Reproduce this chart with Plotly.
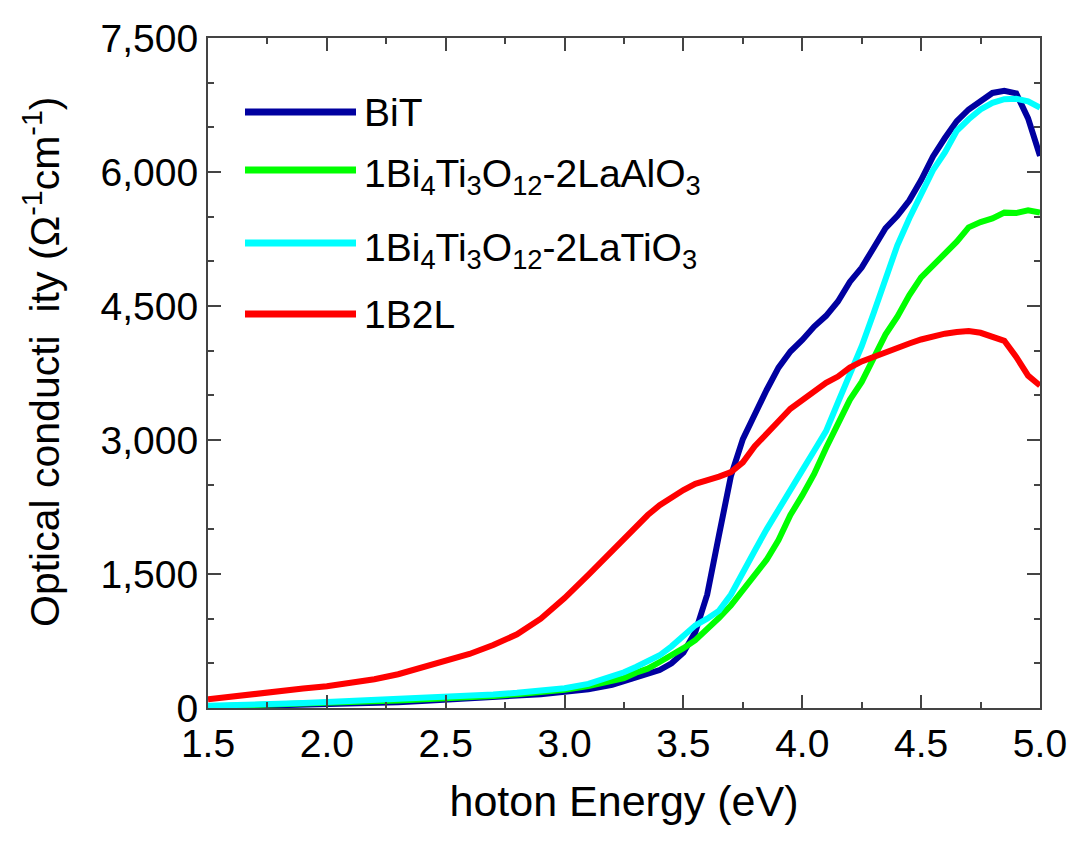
import plotly.graph_objects as go

energy = [1.5, 1.6, 1.7, 1.8, 1.9, 2.0, 2.1, 2.2, 2.3, 2.4, 2.5, 2.6, 2.7, 2.8, 2.9, 3.0, 3.1, 3.2,
          3.25, 3.3, 3.35, 3.4, 3.45, 3.5, 3.55, 3.6, 3.65, 3.7, 3.75, 3.8, 3.85, 3.9, 3.95, 4.0,
          4.05, 4.1, 4.15, 4.2, 4.25, 4.3, 4.35, 4.4, 4.45, 4.5, 4.55, 4.6, 4.65, 4.7, 4.75, 4.8,
          4.85, 4.9, 4.95, 5.0]

bit = [10, 15, 20, 25, 30, 38, 45, 55, 65, 78, 90, 105, 120, 140, 155, 175, 210, 260,
       300, 340, 375, 425, 500, 620, 850, 1270, 1940, 2600, 3010, 3300, 3560, 3810, 3990, 4120,
       4270, 4390, 4550, 4770, 4930, 5150, 5370, 5510, 5680, 5910, 6175, 6380, 6570, 6700, 6800, 6885,
       6910, 6880, 6600, 6180]

laalo3 = [18, 24, 30, 38, 46, 55, 65, 75, 85, 95, 105, 120, 135, 155, 178, 205, 245, 300,
          335, 395, 440, 515, 590, 670, 760, 880, 1010, 1150, 1320, 1480, 1660, 1880, 2160, 2380,
          2620, 2910, 3180, 3450, 3650, 3930, 4180, 4380, 4620, 4820, 4950, 5070, 5220, 5380, 5440, 5480,
          5545, 5540, 5570, 5545]

latio3 = [25, 30, 38, 45, 55, 68, 78, 88, 98, 108, 118, 135, 150, 170, 195, 222, 270, 350,
          400, 460, 520, 590, 690, 810, 925, 1000, 1090, 1270, 1500, 1760, 2000, 2230, 2450, 2660,
          2880, 3100, 3420, 3730, 4050, 4420, 4800, 5180, 5480, 5760, 6020, 6220, 6460, 6590, 6700, 6775,
          6815, 6820, 6790, 6720]

b2l = [97, 130, 165, 195, 218, 243, 277, 322, 378, 448, 522, 605, 705, 825, 1000, 1230, 1490, 1760,
       1900, 2040, 2160, 2270, 2360, 2440, 2510, 2545, 2590, 2640, 2750, 2930, 3080, 3210, 3350, 3450,
       3550, 3640, 3710, 3810, 3880, 3930, 3990, 4045, 4080, 4125, 4160, 4190, 4210, 4220, 4200, 4160,
       4110, 3930, 3720, 3610]

names = ["BiT",
         "1Bi<sub>4</sub>Ti<sub>3</sub>O<sub>12</sub>-2LaAlO<sub>3</sub>",
         "1Bi<sub>4</sub>Ti<sub>3</sub>O<sub>12</sub>-2LaTiO<sub>3</sub>",
         "1B2L"]
colors = ["#0000A0", "#00FF00", "#00FFFF", "#FF0000"]
series = [bit, laalo3, latio3, b2l]

x_ticks = [1.5, 2.0, 2.5, 3.0, 3.5, 4.0, 4.5, 5.0]
y_ticks = [0, 1500, 3000, 4500, 6000, 7500]

FONT = "Liberation Sans Narrow, Arial Narrow, Liberation Sans, Arial, sans-serif"

fig = go.Figure()
for nm, col, ys in zip(names, colors, series):
    fig.add_trace(go.Scatter(x=energy, y=ys, mode="lines", name=nm,
                             line=dict(color=col, width=6), showlegend=False))

W, H = 1071, 841
L, R, T, B = 208, 31, 38, 133
pw, ph = W - L - R, H - T - B

def px2paper_x(px):
    return (px - L) / pw

def px2paper_y(py):
    return (H - B - py) / ph

legend_rows = [112, 170, 243, 314]
text_offsets = [0, 7, 7, 0]
shapes = []
annotations = []
for i, (nm, col) in enumerate(zip(names, colors)):
    yy = px2paper_y(legend_rows[i])
    shapes.append(dict(type="line", xref="paper", yref="paper",
                       x0=px2paper_x(245), x1=px2paper_x(356), y0=yy, y1=yy,
                       line=dict(color=col, width=7)))
    annotations.append(dict(xref="paper", yref="paper", x=px2paper_x(362),
                            y=px2paper_y(legend_rows[i] + text_offsets[i]),
                            xanchor="left", yanchor="middle", showarrow=False,
                            text=nm, font=dict(family=FONT, size=39, color="black")))

annotations.append(dict(xref="paper", yref="paper", x=px2paper_x(42), y=px2paper_y(362),
                        xanchor="center", yanchor="middle", showarrow=False, textangle=-90,
                        text="Optical conducti\u00a0 ity (\u03a9<sup>-1</sup>cm<sup>-1</sup>)",
                        font=dict(family=FONT, size=41, color="black")))

axis_common = dict(
    showline=True, linecolor="#444", linewidth=2, mirror="allticks",
    ticks="inside", tickcolor="#444", tickwidth=1.5, ticklen=13,
    showgrid=False, zeroline=False,
    tickfont=dict(family=FONT, size=39, color="black"),
    automargin=False,
)

fig.update_layout(
    width=W, height=H,
    margin=dict(l=L, r=R, t=T, b=B, pad=0),
    paper_bgcolor="white", plot_bgcolor="white",
    xaxis=dict(range=[1.4999, 5.0001], tickvals=x_ticks, ticktext=[f"{v:.1f}" for v in x_ticks],
               minor=dict(tickvals=[1.75, 2.25, 2.75, 3.25, 3.75, 4.25, 4.75], ticks="inside",
                          ticklen=6, tickcolor="#444", tickwidth=1.5),
               title=dict(text="hoton Energy (eV)", font=dict(family=FONT, size=43, color="black"), standoff=22),
               **axis_common),
    yaxis=dict(range=[0, 7500], tickvals=y_ticks, ticktext=[f"{v:,}" for v in y_ticks],
               minor=dict(dtick=500, tick0=0, ticks="inside", ticklen=6, tickcolor="#444", tickwidth=1.5),
               **axis_common),
    shapes=shapes, annotations=annotations,
)

fig.write_html("out.html")
